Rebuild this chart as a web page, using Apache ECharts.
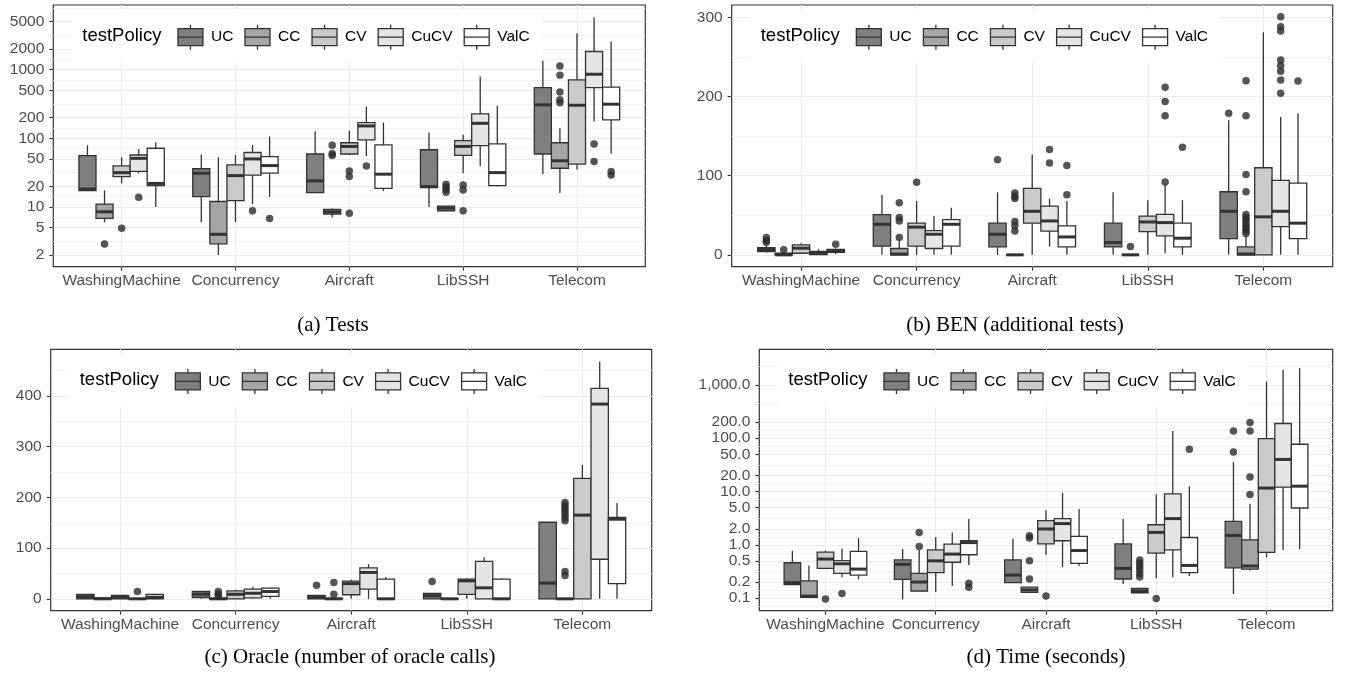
<!DOCTYPE html>
<html>
<head>
<meta charset="utf-8">
<script src="https://cdn.jsdelivr.net/npm/echarts@6/dist/echarts.min.js"></script>
<style>
  html, body { margin: 0; padding: 0; background: #fff; }
  #main { width: 1347px; height: 688px; }
</style>
</head>
<body>
<div id="main"></div>
<script>
const categories = ['WashingMachine', 'Concurrency', 'Aircraft', 'LibSSH', 'Telecom'];
const policies = ['UC', 'CC', 'CV', 'CuCV', 'ValC'];
const fills = ['#7f7f7f', '#a5a5a5', '#cacaca', '#e5e5e5', '#ffffff'];

// each row: [lower whisker, Q1, median, Q3, upper whisker], one row per category
// (a) Tests
const testsUC   = [[17, 17.3, 18.2, 56, 79], [6, 14.1, 31, 36, 58], [16, 16.2, 24, 59, 126], [10, 19.1, 19.8, 68, 121], [30, 59, 306, 547, 1340]];
const testsCC   = [[6, 6.8, 8.5, 11, 17.5], [2, 2.9, 4, 12, 53], [7, 7.9, 8.5, 9.2, 9.5], [8.8, 8.8, 9.6, 10.3, 10.3], [16, 36.6, 47, 86, 140]];
const testsCV   = [[22, 27.7, 31.6, 39.5, 53], [6, 12.4, 28.6, 41, 57], [57, 59, 76, 86, 129], [31, 56.5, 76, 92.5, 112], [35, 42, 302, 708, 3380]];
const testsCuCV = [[31, 33, 51, 57, 70], [11, 29, 50, 62, 80], [55, 95, 151, 169, 289], [39, 78, 165, 226, 790], [175, 547, 855, 1830, 5710]];
const testsValC = [[10, 20.5, 22, 71.5, 87.5], [14, 31, 40, 54, 106], [17, 18.7, 30, 80, 169], [19.8, 20.5, 31.6, 83, 296], [60, 185, 313, 553, 2560]];
// outliers: [policy index, category index, value]
const testsOutliers = [
  [1, 0, 2.9], [2, 0, 4.9], [3, 0, 13.8], [3, 1, 8.8], [4, 1, 6.8],
  [1, 2, 79], [1, 2, 60], [1, 2, 56], [2, 2, 33.4], [2, 2, 27.7], [2, 2, 8.1], [3, 2, 39.5],
  [1, 3, 21.4], [1, 3, 19.5], [1, 3, 18], [1, 3, 16.4], [2, 3, 20.9], [2, 3, 17.7], [2, 3, 8.8],
  [1, 4, 1130], [1, 4, 826], [1, 4, 473], [1, 4, 362], [1, 4, 330], [3, 4, 82.6], [3, 4, 45.7], [4, 4, 32.7], [4, 4, 29.2]
];
const testsTicks = [2, 5, 10, 20, 50, 100, 200, 500, 1000, 2000, 5000];

// (b) BEN (additional tests)
const benUC   = [[3, 4.2, 6.7, 9.2, 12], [0, 10.9, 38.6, 50.7, 75.5], [0, 10, 26, 40, 79], [0, 10, 15.5, 40, 79], [0, 20.5, 55, 79.7, 170]];
const benCC   = [[0, 0, 0, 2, 3], [0, 0, 1, 8, 17], [0, 0, 0, 0, 0], [0, 0, 0, 0, 0], [0, 0, 1, 10, 24]];
const benCV   = [[1, 2, 8.4, 12.6, 14.7], [0, 10.9, 35, 40, 68], [0, 40, 55, 84, 126.6], [0, 29.4, 41.5, 49, 69], [0, 0, 48, 110, 281]];
const benCuCV = [[0, 0.4, 1.7, 4.2, 7], [0, 8, 26, 30.6, 49], [10.5, 30, 42.8, 61.6, 71], [2, 24, 40.7, 51, 89], [0, 35.6, 55, 94, 174]];
const benValC = [[1, 3, 5, 7, 8], [0, 10.9, 38.6, 44.4, 59.5], [0, 10, 22.6, 36.5, 68], [0, 10, 21, 40, 69], [0, 20.5, 40, 90.6, 179]];
const benOutliers = [
  [0, 0, 22], [0, 0, 18], [0, 0, 16], [1, 0, 6.3], [4, 0, 13.4],
  [1, 1, 65.8], [1, 1, 47], [1, 1, 42.8], [1, 1, 21.8], [2, 1, 91.8],
  [0, 2, 120], [1, 2, 78], [1, 2, 74], [1, 2, 71], [1, 2, 42], [1, 2, 37], [1, 2, 30], [3, 2, 133], [3, 2, 116], [4, 2, 113], [4, 2, 76],
  [1, 3, 10.5], [3, 3, 211.7], [3, 3, 193.7], [3, 3, 175.7], [3, 3, 92], [4, 3, 135.8],
  [0, 4, 179], [1, 4, 220], [1, 4, 175.7], [1, 4, 101.5], [1, 4, 79.7], [1, 4, 51], [1, 4, 47], [1, 4, 44], [1, 4, 40], [1, 4, 36], [1, 4, 33], [1, 4, 30], [1, 4, 27],
  [3, 4, 300.6], [3, 4, 288], [3, 4, 282.6], [3, 4, 246], [3, 4, 239], [3, 4, 232], [3, 4, 221], [3, 4, 204], [4, 4, 219.7]
];
const benTicks = [0, 100, 200, 300];

// (c) Oracle (number of oracle calls)
const oracleUC   = [[0, 0, 4, 8.5, 8.5], [0, 2.6, 9, 14.5, 14.5], [0, 0, 2.6, 7, 7], [0, 0, 6, 10.5, 10.5], [0, 0, 31, 151, 151]];
const oracleCC   = [[0, 0, 0, 2, 2], [0, 0, 0, 1, 2], [0, 0, 0, 1, 1], [0, 0, 0, 0.5, 0.5], [0, 0, 0, 0.5, 0.5]];
const oracleCV   = [[0, 0, 3, 7, 7], [0, 0, 9, 15.8, 18], [0, 8, 30, 35, 37.5], [0, 8.6, 35.5, 38.8, 40.8], [0, 0, 165, 237.5, 264]];
const oracleCuCV = [[0, 0, 0, 0.6, 0.6], [0, 2, 11, 19, 24], [0, 19, 52, 61, 68.4], [0, 0, 21.7, 73.7, 81.6], [0, 78, 384, 415, 468]];
const oracleValC = [[0, 0, 2.6, 8.5, 10], [0, 5, 14.5, 21, 22.4], [0, 0, 0, 38.8, 42.8], [0, 0, 0, 38.8, 40.8], [0, 30, 157, 160.5, 189]];
const oracleOutliers = [
  [3, 0, 14.5], [1, 1, 14.5], [1, 1, 9], [1, 1, 6],
  [0, 2, 27], [1, 2, 32], [1, 2, 9], [0, 3, 34],
  [1, 4, 190], [1, 4, 184], [1, 4, 178], [1, 4, 172], [1, 4, 166], [1, 4, 160], [1, 4, 154], [1, 4, 54], [1, 4, 46]
];
const oracleTicks = [0, 100, 200, 300, 400];

// (d) Time (seconds)
const timeUC   = [[0.18, 0.18, 0.195, 0.46, 0.77], [0.094, 0.225, 0.43, 0.52, 0.83], [0.195, 0.195, 0.27, 0.52, 1.3], [0.184, 0.228, 0.36, 1.04, 3.05], [0.119, 0.37, 1.5, 2.75, 35.7]];
const timeCC   = [[0.103, 0.103, 0.109, 0.21, 0.41], [0.136, 0.136, 0.2, 0.29, 0.8], [0.128, 0.128, 0.142, 0.16, 0.16], [0.126, 0.126, 0.137, 0.152, 0.152], [0.33, 0.35, 0.4, 1.24, 5.9]];
const timeCV   = [[0.36, 0.36, 0.54, 0.73, 0.78], [0.13, 0.3, 0.5, 0.8, 1.4], [0.65, 1.04, 1.98, 2.84, 4.45], [0.235, 0.7, 1.71, 2.38, 8.8], [0.585, 0.72, 11.6, 98.6, 1156]];
const timeCuCV = [[0.245, 0.29, 0.44, 0.506, 0.85], [0.168, 0.47, 0.67, 1.03, 1.71], [0.38, 1.19, 2.5, 3.1, 9.4], [0.245, 0.8, 3.1, 9.0, 137], [0.8, 12.1, 40, 189, 1919]];
const timeValC = [[0.225, 0.27, 0.35, 0.75, 1.34], [0.42, 0.65, 1.1, 1.2, 3.05], [0.4, 0.45, 0.78, 1.44, 4.7], [0.26, 0.3, 0.41, 1.37, 12.6], [0.83, 4.9, 12.6, 77, 2063]];
const timeOutliers = [
  [2, 0, 0.096], [3, 0, 0.122], [1, 1, 1.71], [1, 1, 0.93], [4, 1, 0.19], [4, 1, 0.16],
  [1, 2, 1.48], [1, 2, 1.34], [1, 2, 0.5], [1, 2, 0.228], [2, 2, 0.109],
  [1, 3, 0.52], [1, 3, 0.45], [1, 3, 0.39], [1, 3, 0.34], [1, 3, 0.29], [1, 3, 0.25], [2, 3, 0.098], [4, 3, 62],
  [0, 4, 137], [0, 4, 55], [1, 4, 198], [1, 4, 137], [1, 4, 18.7], [1, 4, 8.8]
];
const timeTicks = [0.1, 0.2, 0.5, 1, 2, 5, 10, 20, 50, 100, 200, 1000];

const panels = [
  { boxes: [testsUC, testsCC, testsCV, testsCuCV, testsValC], outliers: testsOutliers, ticks: testsTicks, log: true, min: 1.35, max: 8700,
    grid: { left: 53.3, top: 5, width: 592, height: 261.7 }, caption: '(a) Tests', capX: 333, capY: 325,
    fmt: v => String(Math.round(v)) },
  { boxes: [benUC, benCC, benCV, benCuCV, benValC], outliers: benOutliers, ticks: benTicks, log: false, min: -15, max: 315.6,
    grid: { left: 731.7, top: 5, width: 601, height: 261.7 }, caption: '(b) BEN (additional tests)', capX: 1015, capY: 325,
    fmt: v => String(Math.round(v)) },
  { boxes: [oracleUC, oracleCC, oracleCV, oracleCuCV, oracleValC], outliers: oracleOutliers, ticks: oracleTicks, log: false, min: -23.4, max: 492,
    grid: { left: 50.7, top: 349.3, width: 601, height: 261.4 }, caption: '(c) Oracle (number of oracle calls)', capX: 350, capY: 657,
    fmt: v => String(Math.round(v)) },
  { boxes: [timeUC, timeCC, timeCV, timeCuCV, timeValC], outliers: timeOutliers, ticks: timeTicks, log: true, min: 0.058, max: 4660,
    grid: { left: 759.3, top: 349.3, width: 573.4, height: 261.4 }, caption: '(d) Time (seconds)', capX: 1046, capY: 657,
    fmt: v => Number(v).toLocaleString('en-US', { minimumFractionDigits: 1, maximumFractionDigits: 1 }) }
];

const DODGE = 0.15;       // box width in category units, boxes side by side
const BOX_HALF = DODGE / 2;
const offsetOf = k => (k - 2) * DODGE;
const INK = '#333333';
const GRID_COLOR = '#ebebeb';
const boxIcon = 'path://M0,4L25,4L25,21L0,21ZM0,12.5L25,12.5M12.5,0L12.5,4M12.5,21L12.5,25';

// minor breaks half-way between majors (in log space for log axes)
function minorTicks(ticks, log) {
  const t = log ? ticks.map(Math.log10) : ticks.slice();
  const n = t.length;
  const out = [t[0] - (t[1] - t[0]) / 2];
  for (let i = 0; i < n - 1; i++) out.push((t[i] + t[i + 1]) / 2);
  out.push(t[n - 1] + (t[n - 1] - t[n - 2]) / 2);
  return log ? out.map(v => Math.pow(10, v)) : out;
}

function renderBox(params, api) {
  const x = api.value(0);
  const med = api.value(3);
  const left = api.coord([x - BOX_HALF, med]);
  const right = api.coord([x + BOX_HALF, med]);
  const lo = api.coord([x, api.value(1)]);
  const q1 = api.coord([x, api.value(2)]);
  const q3 = api.coord([x, api.value(4)]);
  const hi = api.coord([x, api.value(5)]);
  const cx = lo[0];
  const line = { stroke: INK, lineWidth: 1.3 };
  return {
    type: 'group',
    children: [
      { type: 'line', shape: { x1: cx, y1: hi[1], x2: cx, y2: q3[1] }, style: line },
      { type: 'line', shape: { x1: cx, y1: q1[1], x2: cx, y2: lo[1] }, style: line },
      { type: 'rect', shape: { x: left[0], y: q3[1], width: right[0] - left[0], height: q1[1] - q3[1] },
        style: { fill: api.visual('color'), stroke: INK, lineWidth: 1.3 } },
      { type: 'line', shape: { x1: left[0], y1: left[1], x2: right[0], y2: left[1] }, style: { stroke: INK, lineWidth: 3 } }
    ]
  };
}

const grids = [], xAxes = [], yAxes = [], series = [], legends = [], graphics = [];

panels.forEach((p, pi) => {
  grids.push(Object.assign({ show: true, borderColor: INK, borderWidth: 1.2, backgroundColor: 'transparent' }, p.grid));

  xAxes.push({
    gridIndex: pi, type: 'value', min: -0.6, max: 4.6, position: 'bottom',
    axisLine: { show: false, onZero: false },
    axisTick: { show: true, length: 4, lineStyle: { color: INK, width: 1.1 }, customValues: [0, 1, 2, 3, 4] },
    axisLabel: { customValues: [0, 1, 2, 3, 4], formatter: v => categories[Math.round(v)], color: '#4d4d4d', fontSize: 15.5, margin: 6 },
    splitLine: { show: true, lineStyle: { color: GRID_COLOR, width: 1.1 } }
  });

  const yType = p.log ? 'log' : 'value';
  // major axis
  yAxes.push({
    gridIndex: pi, type: yType, logBase: 10, min: p.min, max: p.max, position: 'left',
    axisLine: { show: false, onZero: false },
    axisTick: { show: true, length: 4, lineStyle: { color: INK, width: 1.1 }, customValues: p.ticks },
    axisLabel: { customValues: p.ticks, formatter: p.fmt, color: '#4d4d4d', fontSize: 15.5, margin: 9 },
    splitLine: { show: true, lineStyle: { color: GRID_COLOR, width: 1.1 } }
  });
  // minor grid lines only
  yAxes.push({
    gridIndex: pi, type: yType, logBase: 10, min: p.min, max: p.max, position: 'left',
    axisLine: { show: false, onZero: false },
    axisTick: { show: false, customValues: minorTicks(p.ticks, p.log) },
    axisLabel: { show: false },
    splitLine: { show: true, lineStyle: { color: '#efefef', width: 0.8 } }
  });

  p.boxes.forEach((rows, k) => {
    series.push({
      type: 'custom',
      name: policies[k],
      xAxisIndex: pi,
      yAxisIndex: pi * 2,
      itemStyle: { color: fills[k] },
      encode: { x: 0, y: [1, 2, 3, 4, 5] },
      data: rows.map((r, ci) => [ci + offsetOf(k)].concat(r)),
      renderItem: renderBox,
      z: 3
    });
  });

  series.push({
    type: 'scatter',
    name: 'outliers',
    xAxisIndex: pi,
    yAxisIndex: pi * 2,
    symbol: 'circle',
    symbolSize: 7.5,
    itemStyle: { color: '#2b2b2b' },
    data: p.outliers.map(o => [o[1] + offsetOf(o[0]), o[2]]),
    z: 4
  });

  legends.push({
    left: p.grid.left + 18,
    top: p.grid.top + 5,
    orient: 'horizontal',
    itemWidth: 25,
    itemHeight: 25,
    itemGap: 11,
    padding: [14, 12, 12, 106],
    backgroundColor: '#ffffff',
    selectedMode: false,
    icon: boxIcon,
    textStyle: { fontSize: 15.5, color: '#000', padding: [0, 0, 0, 3] },
    data: policies.map((n, k) => ({ name: n, itemStyle: { color: fills[k], borderColor: INK, borderWidth: 1.3 } }))
  });

  graphics.push({
    type: 'text', x: p.grid.left + 29, y: p.grid.top + 31, z: 100,
    style: { text: 'testPolicy', fontSize: 18.5, fontFamily: 'Liberation Sans', fill: '#000', verticalAlign: 'middle', align: 'left' }
  });
  graphics.push({
    type: 'text', x: p.capX, y: p.capY, z: 100,
    style: { text: p.caption, fontSize: 21, fontFamily: 'Liberation Serif', fill: '#000', verticalAlign: 'middle', align: 'center' }
  });
});

const chart = echarts.init(document.getElementById('main'));
chart.setOption({
  animation: false,
  backgroundColor: '#fff',
  textStyle: { fontFamily: 'Liberation Sans' },
  grid: grids,
  xAxis: xAxes,
  yAxis: yAxes,
  legend: legends,
  graphic: graphics,
  series: series
});
</script>
</body>
</html>
